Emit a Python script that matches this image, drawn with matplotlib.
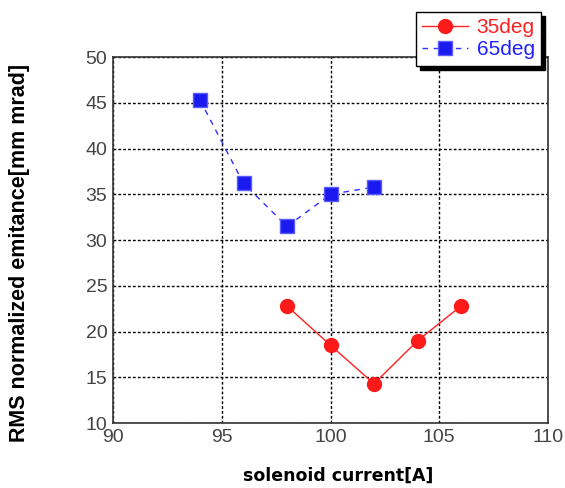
import matplotlib.pyplot as plt

# data
current35 = [98, 100, 102, 104, 106]
emit35 = [22.8, 18.5, 14.3, 19.0, 22.8]
current65 = [94, 96, 98, 100, 102]
emit65 = [45.3, 36.2, 31.5, 35.0, 35.8]
xticks = [90, 95, 100, 105, 110]
yticks = [10, 15, 20, 25, 30, 35, 40, 45, 50]

plt.rcParams['font.family'] = ['Liberation Sans', 'DejaVu Sans']
fig = plt.figure(figsize=(5.65, 4.88), dpi=100)
ax = fig.add_axes([0.2, 0.133, 0.77, 0.75])

ax.plot(current35, emit35, '-', color='#ff2020', lw=1, marker='o', ms=10,
        markerfacecolor='#ff1a1a', markeredgecolor='#ff1a1a', label='35deg')
ax.plot(current65, emit65, '--', color='#3030ff', lw=1, marker='s', ms=9.5,
        markerfacecolor='#1a1aee', markeredgecolor='#5a5aff', label='65deg', dashes=(4, 4))

ax.set_xlim(90, 110)
ax.set_ylim(10, 50)
ax.set_xticks(xticks)
ax.set_yticks(yticks)
ax.grid(True, color='black', linestyle=(0, (2, 1.5)), linewidth=1)
ax.tick_params(length=0, labelsize=14, labelcolor='#444444', pad=4)
for s in ax.spines.values():
    s.set_linewidth(1.2)
    s.set_color('#333333')

ax.set_xlabel('solenoid current[A]', fontsize=12.5, fontweight='bold', family='DejaVu Sans')
ax.set_ylabel('RMS normalized emitance[mm mrad]', fontsize=15.5, fontweight='bold')
ax.xaxis.label.set_va('center')
ax.yaxis.label.set_va('center')
ax.xaxis.set_label_coords(0.518, -0.145)
ax.yaxis.set_label_coords(-0.214, 0.464)

leg = ax.legend(loc='upper right', bbox_to_anchor=(541 / 565, 1 - 12 / 488),
                bbox_transform=fig.transFigure, borderaxespad=0, fancybox=False,
                shadow={'color': 'black', 'alpha': 1, 'ox': 3, 'oy': -3},
                fontsize=15, handlelength=2.2, borderpad=0.3, labelspacing=0.15, handletextpad=0.4)
leg.get_frame().set_edgecolor('black')
leg.get_frame().set_linewidth(1)
for t, c in zip(leg.get_texts(), ['#ff2020', '#2020ff']):
    t.set_color(c)

fig.savefig('out.png', dpi=100)
